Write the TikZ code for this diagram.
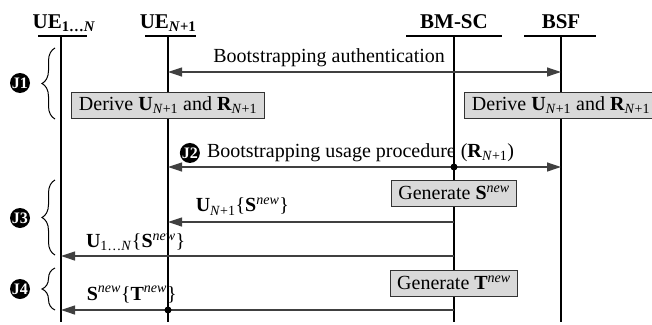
\documentclass[tikz,border=0pt]{standalone}
\usepackage{fontspec}
\setmainfont{Liberation Serif}
\usetikzlibrary{arrows.meta, positioning, decorations.pathreplacing}

\begin{document}
\begin{tikzpicture}[x=1pt, y=-1pt, >={Triangle[length=14pt, width=9pt]},
    font=\fontsize{20}{24}\selectfont,
    head/.style={anchor=base, font=\fontsize{21}{25}\selectfont\bfseries},
    life/.style={line width=1.8pt},
    msg/.style={line width=1.2pt, draw=black!75},
    proc/.style={draw=black!80, line width=1pt, fill=black!15, inner xsep=7pt, inner ysep=3pt, minimum height=26pt},
    phase/.style={circle, fill=black, text=white, inner sep=0pt, minimum size=20pt, font=\fontsize{16}{16}\selectfont\bfseries},
    grp/.style={decorate, decoration={brace, amplitude=13pt}, line width=1pt},
    dot/.style={circle, fill=black, inner sep=0pt, minimum size=7pt}]
    \useasboundingbox (0,0) rectangle (652,324);

    % Lifelines
    \foreach \n/\x/\l/\r in {ueA/61/38/87, ueB/168/145/196, bmsc/454/406/502, bsf/561/524/596} {
        \coordinate (\n-top) at (\x,36);
        \coordinate (\n-end) at (\x,322);
        \draw[life] (\l,36) -- (\r,36);
        \draw[life] (\n-top) -- (\n-end);
    }
    \node (hA) [head] at (64,28) {UE\textsubscript{1…\textit{N}}};
    \node (hB) [head] at (168,28) {UE\textsubscript{\textit{N}+1}};
    \node (hC) [head] at (454,28) {BM-SC};
    \node (hD) [head] at (561,28) {BSF};

    \foreach \r/\y in {auth/72, derive/105, usage/167, genS/193, sA/222, sB/256, genT/283, tN/310}
        \coordinate (\r) at (0,\y);

    % Messages
    \draw[msg, <->] (ueB-top |- auth) -- node[pos=.41, above=1pt] (authTxt) {Bootstrapping authentication} (bsf-top |- auth);
    \node (derA) [proc] at (ueB-top |- derive) {Derive \textbf{U}\textsubscript{\textit{N}+1} and \textbf{R}\textsubscript{\textit{N}+1}};
    \node (derB) [proc] at (bsf-top |- derive) {Derive \textbf{U}\textsubscript{\textit{N}+1} and \textbf{R}\textsubscript{\textit{N}+1}};

    \draw[msg, <->] (ueB-top |- usage) -- node[pos=.49, above=1pt] (usageTxt) {Bootstrapping usage procedure (\textbf{R}\textsubscript{\textit{N}+1})} (bsf-top |- usage);
    \node (J2) [phase, left=3pt of usageTxt] {J2};
    \node (dotA) [dot] at (bmsc-top |- usage) {};

    \node (genSbox) [proc] at (bmsc-top |- genS) {Generate \textbf{S}\textsuperscript{\textit{new}}};
    \draw[msg, ->] (bmsc-top |- sA) -- node[pos=.74, above=3pt] (sATxt) {\textbf{U}\textsubscript{\textit{N}+1}\{\textbf{S}\textsuperscript{\textit{new}}\}} (ueB-top |- sA);
    \draw[msg, ->] (bmsc-top |- sB) -- node[pos=.81, above=1pt] (sBTxt) {\textbf{U}\textsubscript{1…\textit{N}}\{\textbf{S}\textsuperscript{\textit{new}}\}} (ueA-top |- sB);

    \node (genTbox) [proc] at (bmsc-top |- genT) {Generate \textbf{T}\textsuperscript{\textit{new}}};
    \draw[msg, ->] (bmsc-top |- tN) -- node[pos=.82, above=3pt] (tTxt) {\textbf{S}\textsuperscript{\textit{new}}\{\textbf{T}\textsuperscript{\textit{new}}\}} (ueA-top |- tN);
    \node (dotB) [dot] at (ueB-top |- tN) {};

    % Phases
    \draw[grp] (55,119) -- (55,48);
    \draw[grp] (55,255) -- (55,180);
    \draw[grp] (55,310) -- (55,268);
    \node (J1) [phase] at (20,83) {J1};
    \node (J3) [phase] at (20,218) {J3};
    \node (J4) [phase] at (20,289) {J4};
\end{tikzpicture}
\end{document}
